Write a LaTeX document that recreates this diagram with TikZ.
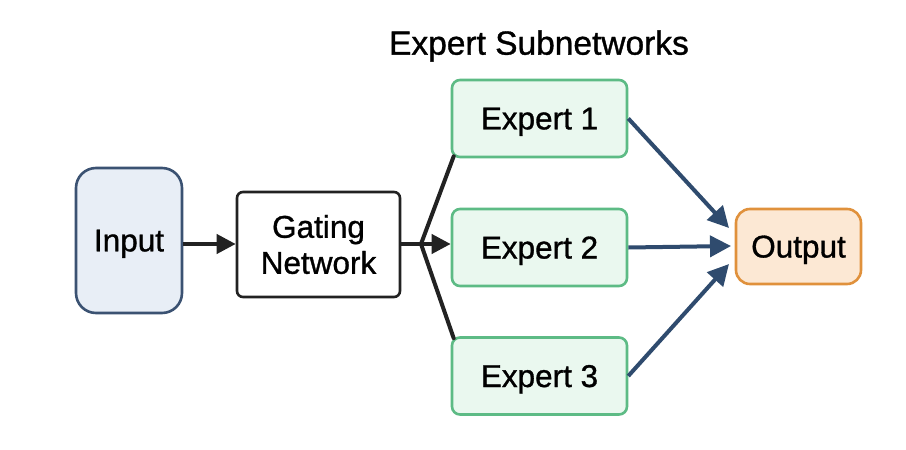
\documentclass[tikz,border=0pt]{standalone}
\usepackage{fontspec}
\setmainfont{Liberation Sans}
\newfontfamily\medfont{Liberation Sans}[FakeBold=1.0]
\usetikzlibrary{arrows.meta,calc}
\definecolor{inpfill}{HTML}{E8EEF6}
\definecolor{inpdraw}{HTML}{3B5272}
\definecolor{expfill}{HTML}{EAF8EF}
\definecolor{expdraw}{HTML}{5DBB85}
\definecolor{outfill}{HTML}{FCE8D4}
\definecolor{outdraw}{HTML}{E0913C}
\definecolor{bluearrow}{HTML}{2F4B6E}
\definecolor{darkline}{HTML}{222222}
\tikzset{
  box/.style={draw, line width=2.6pt, align=center, inner sep=0pt,
    font=\medfont\fontsize{31.5}{36}\selectfont},
  single/.style={text depth=0pt},
  inputbox/.style={box, single, fill=inpfill, draw=inpdraw, rounded corners=20pt,
    minimum width=106pt, minimum height=145pt},
  gatebox/.style={box, fill=white, draw=darkline, rounded corners=6pt,
    minimum width=163pt, minimum height=105pt},
  expbox/.style={box, single, fill=expfill, draw=expdraw, rounded corners=8pt,
    minimum width=175pt, minimum height=77pt},
  outbox/.style={box, single, fill=outfill, draw=outdraw, rounded corners=14pt,
    minimum width=125pt, minimum height=75pt},
  darkarrow/.style={draw=darkline, line width=4pt, -{Triangle[length=19pt,width=19pt]}},
  darkline/.style={draw=darkline, line width=4pt},
  bluearr/.style={draw=bluearrow, line width=4pt, -{Triangle[length=21pt,width=21pt]}},
}
\begin{document}
\begin{tikzpicture}[x=1pt,y=-1pt]
\useasboundingbox (0,0) rectangle (906,450);
\fill[white] (0,0) rectangle (906,450);
\node[font=\medfont\fontsize{33.5}{36}\selectfont] (title) at (539,46) {Expert Subnetworks};
\node[inputbox] (input) at (129,240.5) {Input};
\node[gatebox] (gate) at (318.5,244.5) {Gating\\Network};
\node[expbox] (e1) at (539.5,118.5) {Expert 1};
\node[expbox] (e2) at (539.5,247.5) {Expert 2};
\node[expbox] (e3) at (539.5,376) {Expert 3};
\node[outbox] (out) at (798.5,246.5) {Output};
\coordinate (b) at (421,244);
\coordinate (o1) at (729,228);
\coordinate (o2) at (731,246);
\coordinate (o3) at (729,264);
\draw[darkarrow] (input.east |- b) -- (gate.west |- b);
\draw[darkline] (gate.east |- b) -- (b);
\draw[darkarrow] (b) -- (e2.west |- b);
\draw[darkline, line cap=round] (b) -- ($(e1.south west)+(3,-2)$);
\draw[darkline, line cap=round] (b) -- ($(e3.north west)+(3,2)$);
\draw[bluearr] (e1.east) -- (o1);
\draw[bluearr] (e2.east) -- (o2);
\draw[bluearr] (e3.east) -- (o3);
\end{tikzpicture}
\end{document}
